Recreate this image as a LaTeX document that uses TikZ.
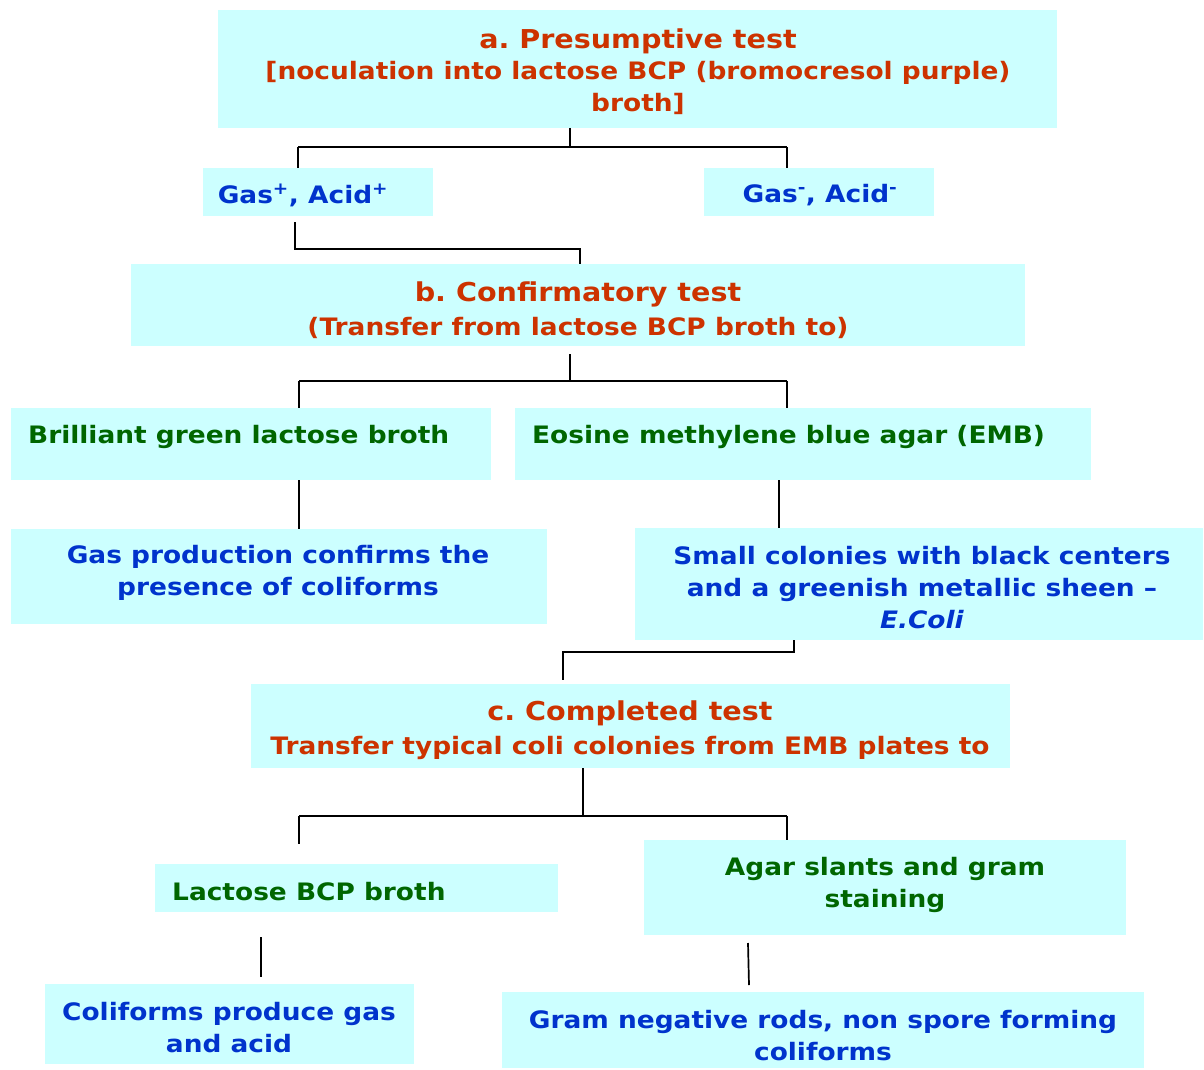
\documentclass[tikz,border=0pt]{standalone}
\usepackage{fontspec}
\setmainfont[FakeStretch=1.1]{DejaVu Sans}
\frenchspacing
\definecolor{boxfill}{HTML}{CCFFFF}
\definecolor{headred}{HTML}{CC3300}
\definecolor{txtblue}{HTML}{0033CC}
\definecolor{txtgreen}{HTML}{006600}
\newcommand\headsize{\fontsize{26}{34}\selectfont}
\newcommand\bodysize{\fontsize{24}{32}\selectfont}
\tikzset{
  cbox/.style={fill=boxfill, draw=none, inner sep=0pt, outer sep=0pt, rectangle},
  conn/.style={draw=black, line width=1.7pt},
  redtxt/.style={text=headred, font=\bfseries\bodysize, align=center, inner sep=0pt},
  bluetxt/.style={text=txtblue, font=\bfseries\bodysize, align=center, inner sep=0pt},
  greentxt/.style={text=txtgreen, font=\bfseries\bodysize, align=center, inner sep=0pt},
}
\begin{document}
\begin{tikzpicture}[x=1pt,y=-1pt]
\useasboundingbox (0,0) rectangle (1204,1070);
% boxes
\node[cbox, minimum width=839, minimum height=118] (a) at (637.5,69) {};
\node[cbox, minimum width=230, minimum height=48] (gp) at (318,192) {};
\node[cbox, minimum width=230, minimum height=48] (gm) at (819,192) {};
\node[cbox, minimum width=894, minimum height=82] (b) at (578,305) {};
\node[cbox, minimum width=480, minimum height=72] (bg) at (251,444) {};
\node[cbox, minimum width=576, minimum height=72] (emb) at (803,444) {};
\node[cbox, minimum width=536, minimum height=95] (gasp) at (279,576.5) {};
\node[cbox, minimum width=568, minimum height=112] (sc) at (919,584) {};
\node[cbox, minimum width=759, minimum height=84] (c) at (630.5,726) {};
\node[cbox, minimum width=403, minimum height=48] (lac) at (356.5,888) {};
\node[cbox, minimum width=482, minimum height=95] (agar) at (885,887.5) {};
\node[cbox, minimum width=369, minimum height=80] (col) at (229.5,1024) {};
\node[cbox, minimum width=642, minimum height=76] (gram) at (823,1030) {};
% texts
\node[redtxt] (ta) at (638,71.5) {{\headsize a. Presumptive test}\\[-1pt] [noculation into lactose BCP (bromocresol purple)\\ broth]};
\node[bluetxt] (tgp) at (303,195) {Gas\textsuperscript{+}, Acid\textsuperscript{+}};
\node[bluetxt] (tgm) at (820,195) {Gas\textsuperscript{-}, Acid\textsuperscript{-}};
\node[redtxt] (tb) at (578,310.5) {{\headsize b. Confirmatory test}\\[2pt] (Transfer from lactose BCP broth to)};
\node[greentxt, anchor=west] (tbg) at (28,436.5) {Brilliant green lactose broth};
\node[greentxt, anchor=west] (temb) at (532,436.5) {Eosine methylene blue agar (EMB)};
\node[bluetxt] (tgasp) at (278,572.5) {Gas production confirms the\\ presence of coliforms};
\node[bluetxt] (tsc) at (922,588) {Small colonies with black centers\\ and a greenish metallic sheen –\\ \textit{E.Coli}};
\node[redtxt] (tc) at (630,730.5) {{\headsize c. Completed test}\\[2pt] Transfer typical coli colonies from EMB plates to};
\node[greentxt, anchor=west] (tlac) at (172,892) {Lactose BCP broth};
\node[greentxt] (tagar) at (885,884.5) {Agar slants and gram\\ staining};
\node[bluetxt] (tcol) at (229,1028) {Coliforms produce gas\\ and acid};
\node[bluetxt] (tgram) at (823,1036) {Gram negative rods, non spore forming\\ coliforms};
% connectors
\coordinate (ja) at (570,147);
\coordinate (ja1) at (298,147);
\coordinate (ja2) at (787,147);
\draw[conn] (a.south -| ja) -- (ja);
\draw[conn] (ja1) -- (ja2);
\draw[conn] (ja1) -- (ja1 |- gp.north);
\draw[conn] (ja2) -- (ja2 |- gm.north);
\coordinate (g1) at (295,222);
\coordinate (g2) at (295,249);
\coordinate (g3) at (580,249);
\draw[conn] (g1) -- (g2) -- (g3) -- (g3 |- b.north);
\coordinate (jb0) at (570,354);
\coordinate (jb) at (570,381);
\coordinate (jb1) at (299,381);
\coordinate (jb2) at (787,381);
\draw[conn] (jb0) -- (jb);
\draw[conn] (jb1) -- (jb2);
\draw[conn] (jb1) -- (jb1 |- bg.north);
\draw[conn] (jb2) -- (jb2 |- emb.north);
\coordinate (k1) at (299,480);
\draw[conn] (k1) -- (k1 |- gasp.north);
\coordinate (k2) at (779,480);
\draw[conn] (k2) -- (k2 |- sc.north);
\coordinate (m1) at (794,652);
\coordinate (m2) at (563,652);
\coordinate (m3) at (563,680);
\draw[conn] (m1 |- sc.south) -- (m1) -- (m2) -- (m3);
\coordinate (jc) at (583,816);
\coordinate (jc1) at (299,816);
\coordinate (jc2) at (787,816);
\draw[conn] (jc |- c.south) -- (jc);
\draw[conn] (jc1) -- (jc2);
\draw[conn] (jc1) -- (299,844);
\draw[conn] (jc2) -- (jc2 |- agar.north);
\coordinate (n1) at (261,937);
\coordinate (n2) at (261,977);
\draw[conn] (n1) -- (n2);
\coordinate (p1) at (748,943);
\coordinate (p2) at (749,985);
\draw[conn] (p1) -- (p2);
\end{tikzpicture}
\end{document}
